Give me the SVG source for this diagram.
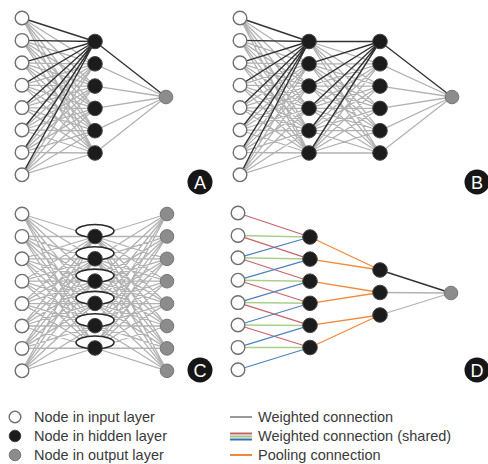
<svg xmlns="http://www.w3.org/2000/svg" width="488" height="464" viewBox="0 0 488 464">
<style>
.g{fill:none;stroke:#b2b2b2;stroke-width:1.3;stroke-linejoin:round}
.k{fill:none;stroke:#333;stroke-width:1.4;stroke-linejoin:round}
.r{fill:none;stroke:#c9636b;stroke-width:1.2}
.gr{fill:none;stroke:#a9cf8c;stroke-width:1.5}
.b{fill:none;stroke:#4f80bf;stroke-width:1.2}
.o{fill:none;stroke:#f08a3c;stroke-width:1.3}
.in{fill:#fff;stroke:#6f6f6f;stroke-width:1.4}
.hd{fill:#1c1c1c;stroke:#444;stroke-width:1}
.out{fill:#8c8c8c;stroke:#777;stroke-width:1}
.ring{fill:#fff;stroke:#2a2a2a;stroke-width:1.6}
.lab{fill:#161616}
.lt{font-family:"Liberation Sans",Arial,sans-serif;font-size:18px;fill:#fff;text-anchor:middle}
.leg{font-family:"Liberation Sans",Arial,sans-serif;font-size:14.5px;fill:#3a3a3a}
</style>
<g id="connectors">
<path class="g" d="M22 18L95 63.8L22 40.4M22 62.8L95 63.8L22 85.2M22 107.6L95 63.8L22 130M22 152.4L95 63.8L22 174.8
M22 18L95 86.1L22 40.4M22 62.8L95 86.1L22 85.2M22 107.6L95 86.1L22 130M22 152.4L95 86.1L22 174.8
M22 18L95 108.4L22 40.4M22 62.8L95 108.4L22 85.2M22 107.6L95 108.4L22 130M22 152.4L95 108.4L22 174.8
M22 18L95 130.7L22 40.4M22 62.8L95 130.7L22 85.2M22 107.6L95 130.7L22 130M22 152.4L95 130.7L22 174.8
M22 18L95 153L22 40.4M22 62.8L95 153L22 85.2M22 107.6L95 153L22 130M22 152.4L95 153L22 174.8
M95 63.8L166 97L95 86.1M95 108.4L166 97L95 130.7M95 153L166 97"/>
<path class="k" d="M22 18L95 41.5L22 40.4M22 62.8L95 41.5L22 85.2M22 107.6L95 41.5L22 130M22 152.4L95 41.5L22 174.8M95 41.5L166 97"/>
<path class="g" d="M240 18L309 63.8L240 40.4M240 62.8L309 63.8L240 85.2M240 107.6L309 63.8L240 130M240 152.4L309 63.8L240 174.8
M240 18L309 86.1L240 40.4M240 62.8L309 86.1L240 85.2M240 107.6L309 86.1L240 130M240 152.4L309 86.1L240 174.8
M240 18L309 108.4L240 40.4M240 62.8L309 108.4L240 85.2M240 107.6L309 108.4L240 130M240 152.4L309 108.4L240 174.8
M240 18L309 130.7L240 40.4M240 62.8L309 130.7L240 85.2M240 107.6L309 130.7L240 130M240 152.4L309 130.7L240 174.8
M240 18L309 153L240 40.4M240 62.8L309 153L240 85.2M240 107.6L309 153L240 130M240 152.4L309 153L240 174.8
M309 41.5L380 63.8L309 63.8M309 86.1L380 63.8L309 108.4M309 130.7L380 63.8L309 153
M309 41.5L380 86.1L309 63.8M309 86.1L380 86.1L309 108.4M309 130.7L380 86.1L309 153
M309 41.5L380 108.4L309 63.8M309 86.1L380 108.4L309 108.4M309 130.7L380 108.4L309 153
M309 41.5L380 130.7L309 63.8M309 86.1L380 130.7L309 108.4M309 130.7L380 130.7L309 153
M309 41.5L380 153L309 63.8M309 86.1L380 153L309 108.4M309 130.7L380 153L309 153
M380 63.8L452 97L380 86.1M380 108.4L452 97L380 130.7M380 153L452 97"/>
<path class="k" d="M240 18L309 41.5L240 40.4M240 62.8L309 41.5L240 85.2M240 107.6L309 41.5L240 130M240 152.4L309 41.5L240 174.8
M309 41.5L380 41.5L309 63.8M309 86.1L380 41.5L309 108.4M309 130.7L380 41.5L309 153M380 41.5L452 97"/>
<path class="g" d="M22 214L95 236.5L22 236.4M22 258.8L95 236.5L22 281.2M22 303.6L95 236.5L22 326M22 348.4L95 236.5L22 370.8
M22 214L95 258.8L22 236.4M22 258.8L95 258.8L22 281.2M22 303.6L95 258.8L22 326M22 348.4L95 258.8L22 370.8
M22 214L95 281.1L22 236.4M22 258.8L95 281.1L22 281.2M22 303.6L95 281.1L22 326M22 348.4L95 281.1L22 370.8
M22 214L95 303.4L22 236.4M22 258.8L95 303.4L22 281.2M22 303.6L95 303.4L22 326M22 348.4L95 303.4L22 370.8
M22 214L95 325.7L22 236.4M22 258.8L95 325.7L22 281.2M22 303.6L95 325.7L22 326M22 348.4L95 325.7L22 370.8
M22 214L95 348L22 236.4M22 258.8L95 348L22 281.2M22 303.6L95 348L22 326M22 348.4L95 348L22 370.8
M167 214L95 236.5L167 236.4M167 258.8L95 236.5L167 281.2M167 303.6L95 236.5L167 326M167 348.4L95 236.5L167 370.8
M167 214L95 258.8L167 236.4M167 258.8L95 258.8L167 281.2M167 303.6L95 258.8L167 326M167 348.4L95 258.8L167 370.8
M167 214L95 281.1L167 236.4M167 258.8L95 281.1L167 281.2M167 303.6L95 281.1L167 326M167 348.4L95 281.1L167 370.8
M167 214L95 303.4L167 236.4M167 258.8L95 303.4L167 281.2M167 303.6L95 303.4L167 326M167 348.4L95 303.4L167 370.8
M167 214L95 325.7L167 236.4M167 258.8L95 325.7L167 281.2M167 303.6L95 325.7L167 326M167 348.4L95 325.7L167 370.8
M167 214L95 348L167 236.4M167 258.8L95 348L167 281.2M167 303.6L95 348L167 326M167 348.4L95 348L167 370.8"/>
<path class="r" d="M238 213L310 237M238 235.4L310 259.1M238 257.8L310 281.2M238 280.2L310 303.3M238 302.6L310 325.4M238 325L310 347.5"/>
<path class="gr" d="M238 235.4L310 237M238 257.8L310 259.1M238 280.2L310 281.2M238 302.6L310 303.3M238 325L310 325.4M238 347.4L310 347.5"/>
<path class="b" d="M238 257.8L310 237M238 280.2L310 259.1M238 302.6L310 281.2M238 325L310 303.3M238 347.4L310 325.4M238 369.8L310 347.5"/>
<path class="o" d="M310 237L380 270L310 259.1M310 281.2L380 292.5L310 303.3M310 325.4L380 315L310 347.5"/>
<path class="g" d="M380 292.5L451 293L380 315"/>
<path class="k" d="M380 270L451 293"/>
</g>
<g id="panelA">
<g id="A-in" class="in"><circle cx="22" cy="18" r="6.8"/><circle cx="22" cy="40.4" r="6.8"/><circle cx="22" cy="62.8" r="6.8"/><circle cx="22" cy="85.2" r="6.8"/><circle cx="22" cy="107.6" r="6.8"/><circle cx="22" cy="130" r="6.8"/><circle cx="22" cy="152.4" r="6.8"/><circle cx="22" cy="174.8" r="6.8"/></g>
<g id="A-hid" class="hd"><circle cx="95" cy="41.5" r="7.3"/><circle cx="95" cy="63.8" r="7.3"/><circle cx="95" cy="86.1" r="7.3"/><circle cx="95" cy="108.4" r="7.3"/><circle cx="95" cy="130.7" r="7.3"/><circle cx="95" cy="153" r="7.3"/></g>
<g id="A-out"><circle class="out" cx="166" cy="97" r="6.8"/></g>
<g id="A-label"><circle class="lab" cx="200" cy="182" r="12.5"/><text class="lt" x="200" y="188.5">A</text></g>
</g>
<g id="panelB">
<g id="B-in" class="in"><circle cx="240" cy="18" r="6.8"/><circle cx="240" cy="40.4" r="6.8"/><circle cx="240" cy="62.8" r="6.8"/><circle cx="240" cy="85.2" r="6.8"/><circle cx="240" cy="107.6" r="6.8"/><circle cx="240" cy="130" r="6.8"/><circle cx="240" cy="152.4" r="6.8"/><circle cx="240" cy="174.8" r="6.8"/></g>
<g id="B-hid1" class="hd"><circle cx="309" cy="41.5" r="7.3"/><circle cx="309" cy="63.8" r="7.3"/><circle cx="309" cy="86.1" r="7.3"/><circle cx="309" cy="108.4" r="7.3"/><circle cx="309" cy="130.7" r="7.3"/><circle cx="309" cy="153" r="7.3"/></g>
<g id="B-hid2" class="hd"><circle cx="380" cy="41.5" r="7.3"/><circle cx="380" cy="63.8" r="7.3"/><circle cx="380" cy="86.1" r="7.3"/><circle cx="380" cy="108.4" r="7.3"/><circle cx="380" cy="130.7" r="7.3"/><circle cx="380" cy="153" r="7.3"/></g>
<g id="B-out"><circle class="out" cx="452" cy="97" r="6.8"/></g>
<g id="B-label"><circle class="lab" cx="477" cy="182" r="12.5"/><text class="lt" x="477" y="188.5">B</text></g>
</g>
<g id="panelC">
<g id="C-in" class="in"><circle cx="22" cy="214" r="6.8"/><circle cx="22" cy="236.4" r="6.8"/><circle cx="22" cy="258.8" r="6.8"/><circle cx="22" cy="281.2" r="6.8"/><circle cx="22" cy="303.6" r="6.8"/><circle cx="22" cy="326" r="6.8"/><circle cx="22" cy="348.4" r="6.8"/><circle cx="22" cy="370.8" r="6.8"/></g>
<g id="C-hid">
<ellipse class="ring" cx="95" cy="231" rx="19" ry="6.5"/><circle class="hd" cx="95" cy="236.5" r="7.3"/>
<ellipse class="ring" cx="95" cy="253.3" rx="19" ry="6.5"/><circle class="hd" cx="95" cy="258.8" r="7.3"/>
<ellipse class="ring" cx="95" cy="275.6" rx="19" ry="6.5"/><circle class="hd" cx="95" cy="281.1" r="7.3"/>
<ellipse class="ring" cx="95" cy="297.9" rx="19" ry="6.5"/><circle class="hd" cx="95" cy="303.4" r="7.3"/>
<ellipse class="ring" cx="95" cy="320.2" rx="19" ry="6.5"/><circle class="hd" cx="95" cy="325.7" r="7.3"/>
<ellipse class="ring" cx="95" cy="342.5" rx="19" ry="6.5"/><circle class="hd" cx="95" cy="348" r="7.3"/>
</g>
<g id="C-out" class="out"><circle cx="167" cy="214" r="6.8"/><circle cx="167" cy="236.4" r="6.8"/><circle cx="167" cy="258.8" r="6.8"/><circle cx="167" cy="281.2" r="6.8"/><circle cx="167" cy="303.6" r="6.8"/><circle cx="167" cy="326" r="6.8"/><circle cx="167" cy="348.4" r="6.8"/><circle cx="167" cy="370.8" r="6.8"/></g>
<g id="C-label"><circle class="lab" cx="200" cy="370" r="12.5"/><text class="lt" x="200" y="376.5">C</text></g>
</g>
<g id="panelD">
<g id="D-in" class="in"><circle cx="238" cy="213" r="6.8"/><circle cx="238" cy="235.4" r="6.8"/><circle cx="238" cy="257.8" r="6.8"/><circle cx="238" cy="280.2" r="6.8"/><circle cx="238" cy="302.6" r="6.8"/><circle cx="238" cy="325" r="6.8"/><circle cx="238" cy="347.4" r="6.8"/><circle cx="238" cy="369.8" r="6.8"/></g>
<g id="D-hid1" class="hd"><circle cx="310" cy="237" r="7.3"/><circle cx="310" cy="259.1" r="7.3"/><circle cx="310" cy="281.2" r="7.3"/><circle cx="310" cy="303.3" r="7.3"/><circle cx="310" cy="325.4" r="7.3"/><circle cx="310" cy="347.5" r="7.3"/></g>
<g id="D-hid2" class="hd"><circle cx="380" cy="270" r="7.3"/><circle cx="380" cy="292.5" r="7.3"/><circle cx="380" cy="315" r="7.3"/></g>
<g id="D-out"><circle class="out" cx="451" cy="293" r="6.8"/></g>
<g id="D-label"><circle class="lab" cx="477" cy="370" r="12.5"/><text class="lt" x="477" y="376.5">D</text></g>
</g>
<g id="legend">
<circle class="in" cx="15" cy="417" r="5.8"/><text class="leg" x="34" y="422">Node in input layer</text>
<circle class="hd" cx="15" cy="436" r="5.8"/><text class="leg" x="34" y="441">Node in hidden layer</text>
<circle class="out" cx="15" cy="455" r="5.8"/><text class="leg" x="34" y="460">Node in output layer</text>
<line x1="230" y1="417" x2="252" y2="417" stroke="#9a9a9a" stroke-width="2"/><text class="leg" x="258" y="422">Weighted connection</text>
<line x1="230" y1="433.5" x2="252" y2="433.5" stroke="#c9636b" stroke-width="2"/>
<line x1="230" y1="436.5" x2="252" y2="436.5" stroke="#9cc783" stroke-width="2"/>
<line x1="230" y1="439.5" x2="252" y2="439.5" stroke="#3f6fae" stroke-width="2"/>
<text class="leg" x="258" y="441">Weighted connection (shared)</text>
<line x1="230" y1="455" x2="252" y2="455" stroke="#f08a3c" stroke-width="2"/><text class="leg" x="258" y="460">Pooling connection</text>
</g>
</svg>
